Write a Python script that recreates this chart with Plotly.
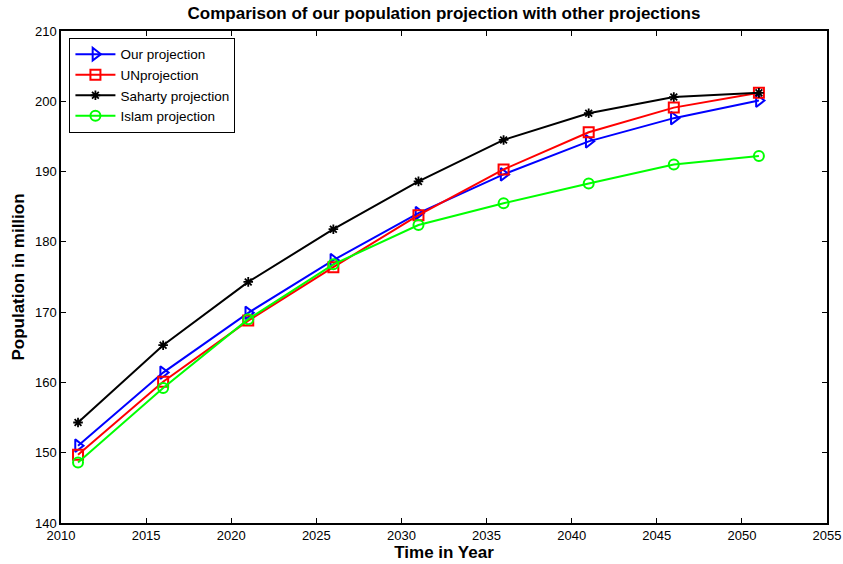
import plotly.graph_objects as go

years = [2011, 2016, 2021, 2026, 2031, 2036, 2041, 2046, 2051]
our_proj = [151.0, 161.4, 169.9, 177.4, 184.1, 189.6, 194.3, 197.6, 200.1]
un_proj = [149.7, 160.1, 168.8, 176.4, 183.8, 190.3, 195.6, 199.1, 201.2]
saharty_proj = [154.3, 165.3, 174.3, 181.8, 188.6, 194.5, 198.3, 200.6, 201.2]
islam_proj = [148.6, 159.2, 169.0, 176.8, 182.4, 185.5, 188.3, 191.0, 192.2]

x_ticks = [2010, 2015, 2020, 2025, 2030, 2035, 2040, 2045, 2050, 2055]
y_ticks = [140, 150, 160, 170, 180, 190, 200, 210]

series = [
    ("Our projection", our_proj, "#0000ff", "triangle-right-open", 11, 2),
    ("UNprojection", un_proj, "#ff0000", "square-open", 10, 2),
    ("Saharty projection", saharty_proj, "#000000", "asterisk-open", 8, 1.8),
    ("Islam projection", islam_proj, "#00ff00", "circle-open", 10, 2),
]

FONT = "Arial, Liberation Sans, Helvetica, sans-serif"

fig = go.Figure()
for name, vals, color, sym, msize, mlw in series:
    fig.add_trace(go.Scatter(
        x=years, y=vals, name=name, mode="lines+markers",
        line=dict(color=color, width=2),
        marker=dict(symbol=sym, size=msize, color=color, line=dict(color=color, width=mlw)),
    ))

axis_common = dict(
    showline=True, linecolor="black", linewidth=1.5, mirror="ticks",
    ticks="inside", ticklen=5, tickcolor="black", showgrid=False, zeroline=False,
    automargin=False,
    tickfont=dict(family=FONT, size=13, color="black"),
)
fig.update_xaxes(range=[2010, 2055], tickvals=x_ticks,
                 title=dict(text="<b>Time in Year</b>", font=dict(family=FONT, size=17, color="black"), standoff=2),
                 **axis_common)
fig.update_yaxes(range=[140, 210], tickvals=y_ticks,
                 title=dict(text="<b>Population in million</b>", font=dict(family=FONT, size=17, color="black"), standoff=6),
                 **axis_common)

fig.update_layout(
    width=843, height=564,
    margin=dict(l=61, r=16, t=31, b=41),
    paper_bgcolor="white", plot_bgcolor="white",
    title=dict(text="<b>Comparison of our population projection with other projections</b>",
               xref="paper", x=0.5, xanchor="center", yref="container", y=0.988, yanchor="top",
               font=dict(family=FONT, size=17, color="black")),
    legend=dict(x=0.011, y=0.986, xanchor="left", yanchor="top",
                bordercolor="black", borderwidth=1, bgcolor="white",
                font=dict(family=FONT, size=13.5, color="black"),
                tracegroupgap=0, itemwidth=40),
    showlegend=True,
)

fig.write_html("out.html")
